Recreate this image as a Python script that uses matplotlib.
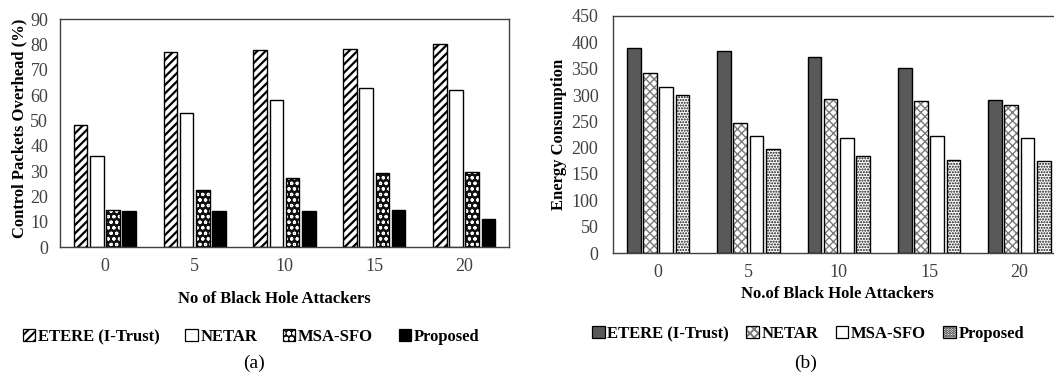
import matplotlib
matplotlib.use("Agg")
import matplotlib.pyplot as plt
from matplotlib.patches import Patch
import numpy as np

plt.rcParams['font.family'] = ['Liberation Serif', 'DejaVu Serif']
plt.rcParams['hatch.linewidth'] = 1.4

categories = ['0', '5', '10', '15', '20']
series_names = ['ETERE (I-Trust)', 'NETAR', 'MSA-SFO', 'Proposed']

# (a) Control packets overhead (%)
overhead_etere = [48, 76.8, 77.6, 78.1, 80.0]
overhead_netar = [36.1, 53.0, 58.0, 62.6, 61.9]
overhead_msa = [14.8, 22.6, 27.4, 29.1, 29.6]
overhead_proposed = [14.1, 14.4, 14.1, 14.6, 11.2]

# (b) Energy consumption
energy_etere = [390, 384, 371.5, 350.5, 290.5]
energy_netar = [341.5, 246, 293, 288, 280.5]
energy_msa = [315, 223, 219, 221.5, 219]
energy_proposed = [300, 197.5, 184, 176, 174.5]

W, H = 1054, 385
fig = plt.figure(figsize=(W / 100, H / 100), dpi=100)

def ax_rect(l, t, r, b):
    return [l / W, 1 - b / H, (r - l) / W, (b - t) / H]

ax1 = fig.add_axes(ax_rect(60, 19, 509, 247))
ax2 = fig.add_axes(ax_rect(613, 16, 1064.5, 253))

x = np.arange(len(categories))
step = 0.18
bw = 0.152
offs = (np.arange(4) - 1.5) * step

styles_a = [
    dict(facecolor='white', hatch='////', hatchcolor='black', hlw=1.6),
    dict(facecolor='white', hatch=None, hatchcolor=None, hlw=None),
    dict(facecolor='#111111', hatch='ooo', hatchcolor='white', hlw=0.8),
    dict(facecolor='black', hatch=None, hatchcolor=None, hlw=None),
]
styles_b = [
    dict(facecolor='#595959', hatch=None, hatchcolor=None, hlw=None),
    dict(facecolor='white', hatch='xxxx', hatchcolor='#7a7a7a', hlw=1.0),
    dict(facecolor='white', hatch=None, hatchcolor=None, hlw=None),
    dict(facecolor='white', hatch='......', hatchcolor='#111111', hlw=1.0),
]

def set_hlw(artist, lw):
    if lw is not None and hasattr(artist, 'set_hatch_linewidth'):
        artist.set_hatch_linewidth(lw)

def draw(ax, data, styles):
    handles = []
    for i, (vals, st) in enumerate(zip(data, styles)):
        if st['hatch']:
            bars = ax.bar(x + offs[i], vals, bw, facecolor=st['facecolor'], hatch=st['hatch'],
                          edgecolor=st['hatchcolor'], linewidth=0, zorder=2)
            for b in bars:
                set_hlw(b, st['hlw'])
            ax.bar(x + offs[i], vals, bw, fill=False, edgecolor='black', linewidth=1.0, zorder=3)
            p1 = Patch(facecolor=st['facecolor'], hatch=st['hatch'],
                       edgecolor=st['hatchcolor'], linewidth=0)
            set_hlw(p1, st['hlw'])
            p2 = Patch(fill=False, edgecolor='black', linewidth=0.9)
            handles.append((p1, p2))
        else:
            ax.bar(x + offs[i], vals, bw, facecolor=st['facecolor'], edgecolor='black',
                   linewidth=1.0, zorder=2)
            handles.append(Patch(facecolor=st['facecolor'], edgecolor='black', linewidth=0.9))
    return handles

ha = draw(ax1, [overhead_etere, overhead_netar, overhead_msa, overhead_proposed], styles_a)
hb = draw(ax2, [energy_etere, energy_netar, energy_msa, energy_proposed], styles_b)

for ax in (ax1, ax2):
    ax.set_xlim(-0.5, len(categories) - 0.5)
    ax.set_xticks(x)
    ax.set_xticklabels(categories)
    ax.tick_params(axis='both', length=0, labelsize=13, colors='#404040')
    for s in ax.spines.values():
        s.set_color('#404040')
        s.set_linewidth(1.0)

ax1.set_ylim(0, 90)
ax1.set_yticks(np.arange(0, 91, 10))
ax1.tick_params(axis='y', pad=8.5)
ax1.tick_params(axis='x', pad=8)
ax2.set_ylim(0, 450)
ax2.set_yticks(np.arange(0, 451, 50))
ax2.tick_params(axis='y', pad=10.5)
ax2.tick_params(axis='x', pad=8)

ax1.set_ylabel('Control Packets Overhead (%)', fontsize=12, fontweight='bold')
ax2.set_ylabel('Energy Consumption', fontsize=12, fontweight='bold')
ax1.yaxis.set_label_coords(-0.073, 0.52)
ax2.yaxis.set_label_coords(-0.102, 0.5)

fig.text(274 / W, 1 - 299 / H, 'No of Black Hole Attackers', fontsize=12,
         fontweight='bold', ha='center', va='center')
fig.text(837 / W, 1 - 294 / H, 'No.of Black Hole Attackers', fontsize=12,
         fontweight='bold', ha='center', va='center')

leg_kw = dict(ncol=4, loc='center', frameon=False, handlelength=0.75, handleheight=0.75,
              handletextpad=0.15, prop={'weight': 'bold', 'size': 12},
              bbox_transform=fig.transFigure)
ax1.legend(ha, series_names, bbox_to_anchor=(251 / W, 1 - 337 / H), columnspacing=1.55, **leg_kw)
ax2.legend(hb, series_names, bbox_to_anchor=(808 / W, 1 - 334 / H), columnspacing=1.05, **leg_kw)

fig.text(254 / W, 1 - 363 / H, '(a)', fontsize=14, ha='center', va='center')
fig.text(806 / W, 1 - 363 / H, '(b)', fontsize=14, ha='center', va='center')

fig.savefig('out.png', dpi=100)
